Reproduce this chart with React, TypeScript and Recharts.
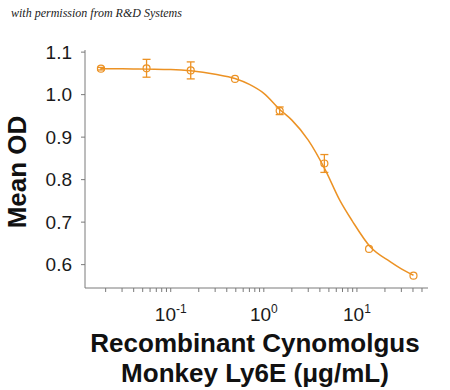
import { ComposedChart, Line, Scatter, XAxis, YAxis, ErrorBar } from 'recharts';

// ── Measured points (3-fold dilution series) ──────────────────────────────
const concentrations = [0.0178, 0.055, 0.164, 0.49, 1.48, 4.47, 13.5, 40.5];
const meanOD = [1.061, 1.062, 1.057, 1.037, 0.962, 0.838, 0.637, 0.574];
const odError = [0.003, 0.021, 0.02, null, 0.009, 0.021, null, null];

// ── Fitted curve ──────────────────────────────────────────────────────────
const fitConc = [0.0178, 0.03, 0.055, 0.1, 0.164, 0.3, 0.49, 0.7, 1.0, 1.5, 2.0, 3.0, 4.5, 6.6, 8.9, 13.9, 22.7, 30, 40.5];
const fitOD = [1.061, 1.061, 1.06, 1.059, 1.056, 1.048, 1.038, 1.024, 1.003, 0.964, 0.94, 0.893, 0.826, 0.75, 0.703, 0.642, 0.607, 0.59, 0.575];

const yTicks = [0.6, 0.7, 0.8, 0.9, 1.0, 1.1];
const majorTicks = [0.1, 1, 10];
const minorTicks = [
  0.02, 0.03, 0.04, 0.05, 0.06, 0.07, 0.08, 0.09,
  0.2, 0.3, 0.4, 0.5, 0.6, 0.7, 0.8, 0.9,
  2, 3, 4, 5, 6, 7, 8, 9,
  20, 30, 40, 50,
];

const ORANGE = '#EC9224';
const AXIS = '#7a7a7a';
const FONT = '"Liberation Sans", Arial, sans-serif';

const points = concentrations.map((x, i) => ({ x, y: meanOD[i], err: odError[i] }));
const curve = fitConc.map((x, i) => ({ x, y: fitOD[i] }));
const xTicks = [...minorTicks, ...majorTicks].sort((a, b) => a - b);

function XTick(props: any) {
  const { x, y, payload } = props;
  const v = payload.value as number;
  if (!majorTicks.some((m) => Math.abs(m - v) < 1e-9)) return null;
  const exp = Math.round(Math.log10(v));
  return (
    <text x={x} y={y + 27} textAnchor="middle" fontSize={19} fill="#1a1a1a" fontFamily={FONT}>
      <tspan>10</tspan>
      <tspan dy={-8} fontSize={12}>{exp}</tspan>
    </text>
  );
}

function OpenCircle(props: any) {
  const { cx, cy } = props;
  return <circle cx={cx} cy={cy} r={3.5} fill="none" stroke={ORANGE} strokeWidth={1.2} />;
}

export default function App() {
  return (
    <div style={{ position: 'absolute', left: 0, top: 0, width: 450, height: 390, background: '#fff' }}>
      <div
        style={{
          position: 'absolute', left: 11, top: 6, fontFamily: '"Liberation Serif", serif',
          fontStyle: 'italic', fontSize: 12, color: '#222', whiteSpace: 'nowrap',
        }}
      >
        with permission from R&amp;D Systems
      </div>
      <ComposedChart
        width={450}
        height={390}
        margin={{ top: 50, right: 22, bottom: 72, left: 0 }}
      >
        <XAxis
          dataKey="x"
          type="number"
          scale="log"
          domain={[0.012, 58]}
          allowDataOverflow
          ticks={xTicks}
          interval={0}
          tick={<XTick />}
          tickSize={4}
          stroke={AXIS}
          height={30}
        />
        <YAxis
          type="number"
          domain={[0.545, 1.105]}
          allowDataOverflow
          ticks={yTicks}
          tickFormatter={(v: number) => v.toFixed(1)}
          tickSize={4}
          tickMargin={9}
          width={85}
          stroke={AXIS}
          tick={{ fontSize: 19, fill: '#1a1a1a', fontFamily: FONT }}
        />
        <Line
          data={curve}
          dataKey="y"
          type="monotone"
          stroke={ORANGE}
          strokeWidth={1.5}
          dot={false}
          isAnimationActive={false}
        />
        <Scatter data={points} dataKey="y" shape={<OpenCircle />} isAnimationActive={false}>
          <ErrorBar dataKey="err" direction="y" width={4} stroke={ORANGE} strokeWidth={1.3} />
        </Scatter>
      </ComposedChart>
      <div
        style={{
          position: 'absolute', left: -83, top: 157, width: 200, height: 30, lineHeight: '30px',
          textAlign: 'center', transform: 'rotate(-90deg)', fontFamily: FONT, fontWeight: 'bold',
          fontSize: 26, color: '#111',
        }}
      >
        Mean OD
      </div>
      <div
        style={{
          position: 'absolute', left: 60, top: 328, width: 390, lineHeight: '30px',
          textAlign: 'center', fontFamily: FONT, fontWeight: 'bold', fontSize: 26, color: '#111',
        }}
      >
        Recombinant Cynomolgus
        <br />
        Monkey Ly6E (μg/mL)
      </div>
    </div>
  );
}
